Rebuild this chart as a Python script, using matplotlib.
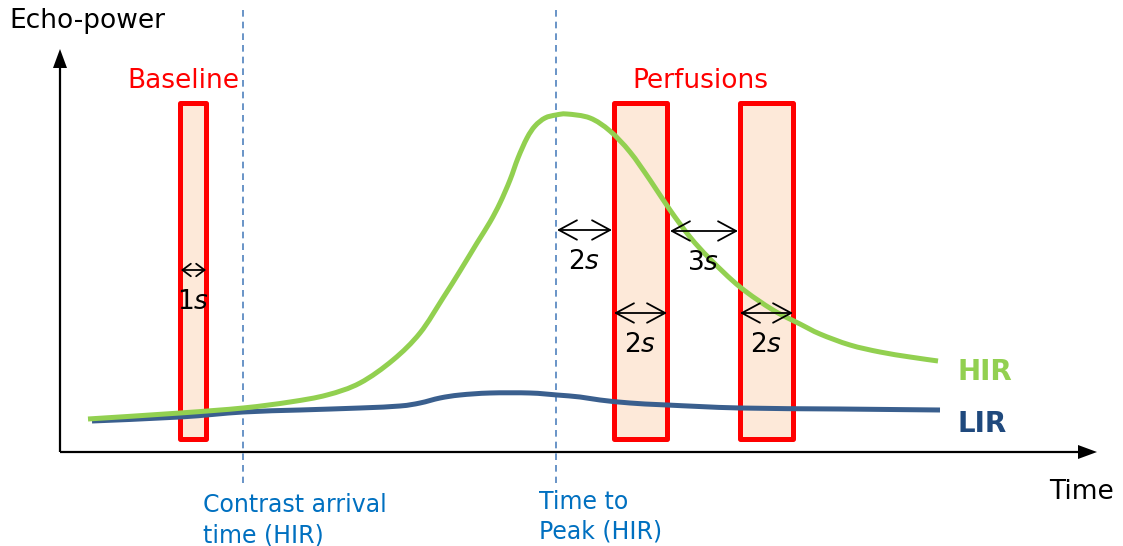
import matplotlib
matplotlib.use("Agg")
import numpy as np
import matplotlib.pyplot as plt
from matplotlib.patches import Rectangle, FancyArrowPatch, PathPatch
from matplotlib.path import Path

# Time-intensity curves (canvas units, y grows downward)
hir_x = [88, 180, 243, 290, 327, 360, 393, 420, 443, 460, 477, 490, 500, 510, 518, 527,
         535, 545, 556, 567, 590, 610, 630, 650, 670, 690, 710, 740, 773, 800, 820, 850,
         880, 910, 938]
hir_y = [419, 413, 408, 402, 395, 383, 360, 333, 298, 271, 243, 222, 203, 180, 158, 138,
         126, 118, 115, 114, 118, 131, 152, 180, 210, 237, 259, 287, 310, 324, 334, 345,
         352, 357, 361]
lir_x = [92, 180, 243, 300, 360, 400, 420, 440, 460, 490, 530, 557, 580, 600, 630, 667,
         740, 840, 940]
lir_y = [421, 417, 412, 410, 408, 406, 403, 398, 395, 393, 393, 395, 397, 400, 403, 405,
         408, 409, 410]

# Acquisition windows: (left, right)
windows = [(180, 206), (614, 667), (740, 793)]
window_top, window_bottom = 103, 439

# Interval markers: (x0, x1, y, label)
intervals = [(181, 206, 270, "1"), (557, 612, 230, "2"), (670, 738, 231, "3"),
             (614, 667, 313, "2"), (740, 793, 313, "2")]

# Reference times
ref_x = [243, 556]
ref_labels = ["Contrast arrival\ntime (HIR)", "Time to\nPeak (HIR)"]

GREEN = "#92D050"
LIR_LINE = "#3A5F8E"
LIR_TEXT = "#1F497D"
DASH = "#4F81BD"
TXT_BLUE = "#0070C0"
RED = "#FF0000"
FILL = "#FDE9D9"


def smooth_path(xs, ys):
    """Catmull-Rom curve through the given points, as cubic Bezier segments."""
    pts = np.column_stack([xs, ys]).astype(float)
    n = len(pts)
    verts = [pts[0]]
    codes = [Path.MOVETO]
    for i in range(n - 1):
        p_prev = pts[max(i - 1, 0)]
        p0, p1 = pts[i], pts[i + 1]
        p_next = pts[min(i + 2, n - 1)]
        verts += [p0 + (p1 - p_prev) / 6, p1 - (p_next - p0) / 6, p1]
        codes += [Path.CURVE4] * 3
    return Path(verts, codes)


fig = plt.figure(figsize=(11.23, 5.46), dpi=100)
ax = fig.add_axes([0, 0, 1, 1])
ax.set_xlim(0, 1123)
ax.set_ylim(546, 0)
ax.axis("off")

# Axes with arrow heads
ax.plot([60, 60], [452, 62], color="black", lw=1.6, solid_capstyle="butt")
ax.plot([60, 1082], [452, 452], color="black", lw=1.6, solid_capstyle="butt")
ax.fill([53, 67, 60], [68, 68, 49], color="black", lw=0)
ax.fill([1078, 1078, 1097], [445, 459, 452], color="black", lw=0)

# Reference dashed lines
for rx in ref_x:
    ax.plot([rx, rx], [10, 483], color=DASH, lw=1.2, ls=(0, (4, 3)))

# Windows
for left, right in windows:
    ax.add_patch(Rectangle((left, window_top), right - left, window_bottom - window_top,
                           facecolor=FILL, edgecolor=RED, lw=3.6, joinstyle="round",
                           zorder=2))

# Curves
ax.add_patch(PathPatch(smooth_path(lir_x, lir_y), fill=False, edgecolor=LIR_LINE,
                       lw=3.6, capstyle="butt", zorder=3))
ax.add_patch(PathPatch(smooth_path(hir_x, hir_y), fill=False, edgecolor=GREEN,
                       lw=3.6, capstyle="butt", zorder=4))

# Interval arrows and labels
for x0, x1, y, num in intervals:
    small = (x1 - x0) < 40
    style = ("<->,head_length=6,head_width=4.5" if small
             else "<->,head_length=13,head_width=7")
    ax.add_patch(FancyArrowPatch((x0, y), (x1, y), arrowstyle=style, color="black",
                                 lw=1.3, shrinkA=0, shrinkB=0, zorder=5,
                                 mutation_scale=1))
    ax.text((x0 + x1) / 2 - 1, y + 32, num + r"$\mathit{s}$", fontsize=19, ha="center",
            va="center", color="black", zorder=6)

# Text
ax.text(9, 21, "Echo-power", fontsize=19, ha="left", va="center", color="black")
ax.text(1114, 492, "Time", fontsize=19, ha="right", va="center", color="black")
ax.text(183, 81, "Baseline", fontsize=19, ha="center", va="center", color=RED)
ax.text(700, 81, "Perfusions", fontsize=19, ha="center", va="center", color=RED)
ax.text(957, 372, "HIR", fontsize=20, fontweight="bold", ha="left", va="center", color=GREEN)
ax.text(957, 424, "LIR", fontsize=20, fontweight="bold", ha="left", va="center", color=LIR_TEXT)

ref_baselines = [(512, 542), (509, 538)]
ref_left = [203, 539]
for label, left, (b1, b2) in zip(ref_labels, ref_left, ref_baselines):
    first, second = label.split("\n")
    ax.text(left, b1, first, fontsize=17, ha="left", va="baseline", color=TXT_BLUE)
    ax.text(left, b2, second, fontsize=17, ha="left", va="baseline", color=TXT_BLUE)

fig.savefig("out.png", dpi=100)
